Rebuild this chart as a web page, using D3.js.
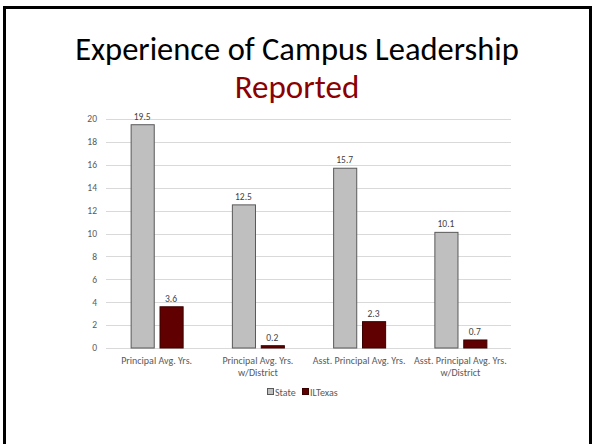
<!DOCTYPE html>
<html>
<head>
<meta charset="utf-8">
<script src="https://cdn.jsdelivr.net/npm/d3@7"></script>
<style>
  body { margin: 0; background: #fff; }
  svg { display: block; font-family: Calibri, Carlito, "Open Sans", sans-serif; }
  .title { font-family: Calibri, Carlito, Lato, sans-serif; }
</style>
</head>
<body>
<div id="chart"></div>
<script>
// data
var categories = [
  ["Principal Avg. Yrs."],
  ["Principal Avg. Yrs.", "w/District"],
  ["Asst. Principal Avg. Yrs."],
  ["Asst. Principal Avg. Yrs.", "w/District"]
];
var seriesNames = ["State", "ILTexas"];
var stateValues = [19.5, 12.5, 15.7, 10.1];
var iltexasValues = [3.6, 0.2, 2.3, 0.7];
var yTicks = [0, 2, 4, 6, 8, 10, 12, 14, 16, 18, 20];

var W = 592, H = 444;
var fills = { "State": "#bfbfbf", "ILTexas": "#600000" };
var strokes = { "State": "#595959", "ILTexas": "#3a0000" };

var svg = d3.select("#chart").append("svg")
  .attr("width", W)
  .attr("height", H);

// slide frame
svg.append("path")
  .attr("d", "M4.5," + (H + 5) + "V7.5H590.5V" + (H + 5))
  .attr("fill", "none")
  .attr("stroke", "#000")
  .attr("stroke-width", 3);

// titles
svg.append("text")
  .attr("class", "title")
  .attr("x", 297).attr("y", 60)
  .attr("text-anchor", "middle")
  .attr("font-size", 32.5)
  .attr("fill", "#000")
  .text("Experience of Campus Leadership");
svg.append("text")
  .attr("class", "title")
  .attr("x", 297).attr("y", 98)
  .attr("text-anchor", "middle")
  .attr("font-size", 33)
  .attr("fill", "#8b0000")
  .text("Reported");

var margin = { left: 106, right: 81, top: 119, bottom: 96 };
var x0 = d3.scaleBand()
  .domain(d3.range(categories.length))
  .range([margin.left, W - margin.right]);
var x1 = d3.scaleBand()
  .domain(seriesNames)
  .range([-26, 26])
  .paddingInner(0.2);
var y = d3.scaleLinear()
  .domain([0, 20])
  .range([H - margin.bottom, margin.top]);

// gridlines
svg.append("g")
  .selectAll("line")
  .data(yTicks)
  .join("line")
  .attr("x1", margin.left)
  .attr("x2", W - margin.right)
  .attr("y1", function(d) { return Math.round(y(d)) + 0.5; })
  .attr("y2", function(d) { return Math.round(y(d)) + 0.5; })
  .attr("stroke", "#d9d9d9")
  .attr("stroke-width", 1);

// y axis labels
svg.append("g")
  .selectAll("text")
  .data(yTicks)
  .join("text")
  .attr("x", 97)
  .attr("y", function(d) { return y(d); })
  .attr("dy", "0.35em")
  .attr("text-anchor", "end")
  .attr("font-size", 9.5)
  .attr("fill", "#595959")
  .text(function(d) { return d; });

var rows = [];
categories.forEach(function(c, i) {
  rows.push({ cat: i, key: "State", value: stateValues[i] });
  rows.push({ cat: i, key: "ILTexas", value: iltexasValues[i] });
});

var bars = svg.append("g");
bars.selectAll("rect")
  .data(rows)
  .join("rect")
  .attr("x", function(d) { return x0(d.cat) + x0.bandwidth() / 2 + x1(d.key) + 0.5; })
  .attr("y", function(d) { return y(d.value); })
  .attr("width", x1.bandwidth())
  .attr("height", function(d) { return y(0) - y(d.value); })
  .attr("fill", function(d) { return fills[d.key]; })
  .attr("stroke", function(d) { return strokes[d.key]; })
  .attr("stroke-width", 1);

// value labels
bars.selectAll("text")
  .data(rows)
  .join("text")
  .attr("x", function(d) { return x0(d.cat) + x0.bandwidth() / 2 + x1(d.key) + x1.bandwidth() / 2; })
  .attr("y", function(d) { return y(d.value) - 5; })
  .attr("text-anchor", "middle")
  .attr("font-size", 9.5)
  .attr("fill", "#404040")
  .text(function(d) { return d.value.toFixed(1); });

// category labels
var cats = svg.append("g")
  .selectAll("text")
  .data(categories)
  .join("text")
  .attr("x", function(d, i) { return x0(i) + x0.bandwidth() / 2; })
  .attr("y", 364)
  .attr("text-anchor", "middle")
  .attr("font-size", 10)
  .attr("fill", "#595959");
cats.selectAll("tspan")
  .data(function(d) { return d; })
  .join("tspan")
  .attr("x", function() { return d3.select(this.parentNode).attr("x"); })
  .attr("dy", function(d, i) { return i === 0 ? 0 : 12; })
  .text(function(d) { return d; });

// legend
var legend = svg.append("g");
var legendX = [267, 302];
seriesNames.forEach(function(name, i) {
  legend.append("rect")
    .attr("x", legendX[i] + 0.5)
    .attr("y", 388.5)
    .attr("width", 6)
    .attr("height", 6)
    .attr("fill", fills[name])
    .attr("stroke", strokes[name])
    .attr("stroke-width", 1);
  legend.append("text")
    .attr("x", legendX[i] + 8)
    .attr("y", 392)
    .attr("dy", "0.35em")
    .attr("font-size", 10)
    .attr("fill", "#595959")
    .text(name);
});
</script>
</body>
</html>
